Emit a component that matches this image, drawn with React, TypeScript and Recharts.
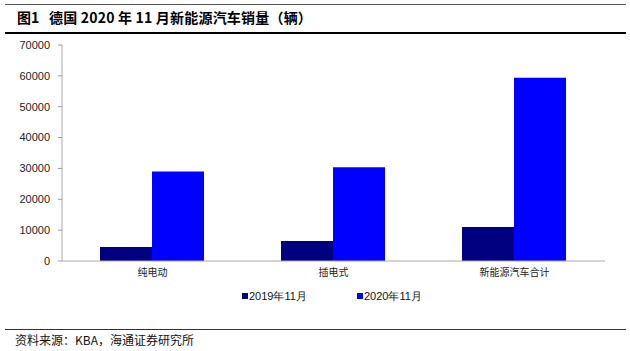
import React from 'react';
import { BarChart, Bar, XAxis, YAxis } from 'recharts';

const categories = ['纯电动', '插电式', '新能源汽车合计'];
const sales2019 = [4550, 6475, 11025];
const sales2020 = [28965, 30407, 59372];
const yTicks = [0, 10000, 20000, 30000, 40000, 50000, 60000, 70000];
const boundaryTicks = [0, 1, 2, 3];

const series = [
  { key: 'y2019', name: '2019年11月', color: '#000080' },
  { key: 'y2020', name: '2020年11月', color: '#0000FF' },
];

const data = categories.map((c, i) => ({ name: c, idx: i + 0.5, y2019: sales2019[i], y2020: sales2020[i] }));

const cjk = '"Noto Sans CJK SC", sans-serif';
const latin = '"Liberation Sans", Arial, sans-serif';

const titleStyle: React.CSSProperties = {
  position: 'absolute', top: 8, fontFamily: cjk, fontWeight: 700,
  fontSize: 14, color: '#000', whiteSpace: 'pre', lineHeight: '18px',
};

export default function App() {
  return (
    <div style={{ position: 'absolute', left: 0, top: 0, width: 630, height: 351, background: '#fff', overflow: 'hidden' }}>
      <div style={{ position: 'absolute', left: 5, top: 4, width: 621, height: 1, background: '#555' }} />
      <div style={{ ...titleStyle, left: 17 }}>图1</div>
      <div style={{ ...titleStyle, left: 49, letterSpacing: 0.2 }}>{'德国 2020 年 11 月新能源汽车销量（辆）'}</div>
      <div style={{ position: 'absolute', left: 5, top: 32, width: 621, height: 2, background: '#000' }} />

      <div style={{ position: 'absolute', left: 0, top: 0 }}>
        <BarChart
          width={630}
          height={290}
          data={data}
          margin={{ top: 45, right: 25, left: 2, bottom: 0 }}
          barCategoryGap="21%"
          barGap={0}
        >
          <XAxis
            xAxisId="bounds"
            dataKey="idx"
            type="number"
            domain={[0, 3]}
            ticks={boundaryTicks}
            height={0}
            axisLine={false}
            tick={false}
            tickLine={{ stroke: '#999' }}
            tickSize={4}
          />
          <XAxis
            dataKey="name"
            height={29}
            axisLine={{ stroke: '#aaa' }}
            tickLine={false}
            tickSize={0}
            tickMargin={8}
            tick={{ fontFamily: cjk, fontSize: 10, fill: '#222' }}
          />
          <YAxis
            width={60}
            domain={[0, 70000]}
            ticks={yTicks}
            axisLine={{ stroke: '#aaa' }}
            tickLine={{ stroke: '#999' }}
            tickSize={4}
            tickMargin={8}
            tick={{ fontFamily: latin, fontSize: 11, fill: '#222' }}
          />
          {series.map((s) => (
            <Bar key={s.key} dataKey={s.key} name={s.name} fill={s.color} isAnimationActive={false} />
          ))}
        </BarChart>
      </div>

      <div style={{ position: 'absolute', top: 289, left: 0, width: 630, height: 14 }}>
        {series.map((s, i) => (
          <div
            key={s.key}
            style={{
              position: 'absolute', left: 242 + i * 115, top: 0, display: 'flex', alignItems: 'center',
              fontFamily: latin, fontSize: 11, color: '#111', whiteSpace: 'nowrap', lineHeight: '14px',
            }}
          >
            <span style={{ display: 'inline-block', width: 6, height: 6, background: s.color, marginRight: 1 }} />
            <span>{s.name}</span>
          </div>
        ))}
      </div>

      <div style={{ position: 'absolute', left: 5, top: 329, width: 621, height: 1, background: '#333' }} />
      <div
        style={{
          position: 'absolute', left: 15, top: 332, fontFamily: cjk, fontSize: 12,
          color: '#111', lineHeight: '16px', whiteSpace: 'pre',
        }}
      >
        资料来源：KBA，海通证券研究所
      </div>
    </div>
  );
}
